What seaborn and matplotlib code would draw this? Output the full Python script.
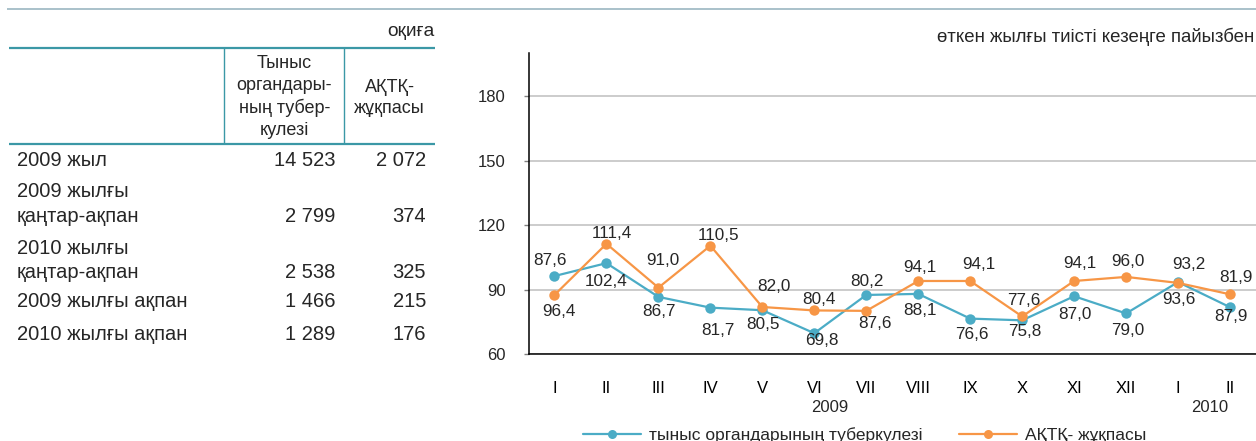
import numpy as np
import pandas as pd
import matplotlib
matplotlib.use("Agg")
import matplotlib.pyplot as plt
import matplotlib.transforms as mtransforms
import seaborn as sns
from matplotlib.lines import Line2D

# ---------------- data ----------------
months = ["I", "II", "III", "IV", "V", "VI", "VII", "VIII", "IX", "X", "XI", "XII", "I", "II"]
years = ["2009", "2010"]
tb_pct = [96.4, 102.4, 86.7, 81.7, 80.5, 69.8, 87.6, 88.1, 76.6, 75.8, 87.0, 79.0, 93.6, 81.9]
hiv_pct = [87.6, 111.4, 91.0, 110.5, 82.0, 80.4, 80.2, 94.1, 94.1, 77.6, 94.1, 96.0, 93.2, 87.9]
upper_labels = [87.6, 111.4, 91.0, 110.5, 82.0, 80.4, 80.2, 94.1, 94.1, 77.6, 94.1, 96.0, 93.2, 81.9]
lower_labels = [96.4, 102.4, 86.7, 81.7, 80.5, 69.8, 87.6, 88.1, 76.6, 75.8, 87.0, 79.0, 93.6, 87.9]
series_names = ["тыныс органдарының туберкулезі", "АҚТҚ- жұқпасы"]
y_ticks = [60, 90, 120, 150, 180]

row_labels = [["2009 жыл"], ["2009 жылғы", "қаңтар-ақпан"], ["2010 жылғы", "қаңтар-ақпан"],
              ["2009 жылғы ақпан"], ["2010 жылғы ақпан"]]
tb_cases = [14523, 2799, 2538, 1466, 1289]
hiv_cases = [2072, 374, 325, 215, 176]
col_header_tb = ["Тыныс", "органдары-", "ның тубер-", "кулезі"]
col_header_hiv = ["АҚТҚ-", "жұқпасы"]
unit_left = "оқиға"
unit_right = "өткен жылғы тиісті кезеңге пайызбен"

# ---------------- style ----------------
sns.set_style("white")
plt.rcParams["font.family"] = ["Liberation Sans", "DejaVu Sans"]
BLUE = "#4bacc6"
ORANGE = "#f79646"
TEAL = "#3b98a6"
RULE = "#a3bcc6"

W, H = 1256, 441
fig = plt.figure(figsize=(W / 100, H / 100), dpi=100)


def fx(x):
    return x / W


def fy(y):
    return 1 - y / H


def hline(x0, x1, y, color, lw):
    fig.add_artist(Line2D([fx(x0), fx(x1)], [fy(y), fy(y)], transform=fig.transFigure,
                          color=color, lw=lw, solid_capstyle="butt"))


def vline(x, y0, y1, color, lw):
    fig.add_artist(Line2D([fx(x), fx(x)], [fy(y0), fy(y1)], transform=fig.transFigure,
                          color=color, lw=lw, solid_capstyle="butt"))


def fmt_int(v):
    return f"{v:,}".replace(",", " ")


def fmt_dec(v):
    return f"{v:.1f}".replace(".", ",")


# top rule
hline(7, 1256, 9, RULE, 1.3)

# ---------------- table ----------------
fig.text(fx(435), fy(31), unit_left, ha="right", va="center", fontsize=13.8)
hline(9, 435, 48.3, TEAL, 1.6)
hline(9, 435, 144, TEAL, 1.6)
vline(224.3, 48.3, 144, TEAL, 1.0)
vline(344.3, 48.3, 144, TEAL, 1.0)
for k, line in enumerate(col_header_tb):
    fig.text(fx(284.3), fy(63 + 22.5 * k), line, ha="center", va="center", fontsize=13)
for k, line in enumerate(col_header_hiv):
    fig.text(fx(389.7), fy(87 + 21.5 * k), line, ha="center", va="center", fontsize=13)

row_line_y = [[160], [191.7, 216.7], [248, 273], [301.7], [334]]
for labels, ys, a, b in zip(row_labels, row_line_y, tb_cases, hiv_cases):
    for line, yy in zip(labels, ys):
        fig.text(fx(17), fy(yy), line, ha="left", va="center", fontsize=14.5)
    fig.text(fx(335), fy(ys[-1]), fmt_int(a), ha="right", va="center", fontsize=14.5)
    fig.text(fx(426), fy(ys[-1]), fmt_int(b), ha="right", va="center", fontsize=14.5)

# ---------------- chart ----------------
ax_l, ax_b, ax_r, ax_t = 528.5, 354.3, 1256, 53.3
ax = fig.add_axes([fx(ax_l), fy(ax_b), (ax_r - ax_l) / W, (ax_b - ax_t) / H])

df = pd.DataFrame({"x": np.arange(len(months)), "tb": tb_pct, "hiv": hiv_pct})
sns.lineplot(data=df, x="x", y="tb", ax=ax, color=BLUE, lw=1.6, marker="o", markersize=7.5,
             markeredgewidth=0, zorder=3)
sns.lineplot(data=df, x="x", y="hiv", ax=ax, color=ORANGE, lw=1.6, marker="o", markersize=7.5,
             markeredgewidth=0, zorder=4)

ax.set_xlim(-0.5, len(months) - 0.5)
ax.set_ylim(60, 200)
ax.set_yticks(y_ticks)
ax.set_yticklabels([str(t) for t in y_ticks])
ax.set_xticks(np.arange(len(months)))
ax.set_xticklabels(months)
ax.set_xticks(np.arange(-0.5, len(months), 1), minor=True)
ax.set_xlabel("")
ax.set_ylabel("")
ax.tick_params(axis="x", which="major", length=0, pad=19, labelsize=12, colors="black")
ax.tick_params(axis="x", which="minor", length=4, width=1, color="#808080", direction="out")
ax.tick_params(axis="y", length=3.6, width=1, color="#808080", pad=13, labelsize=12,
               left=True, direction="out")
ax.yaxis.grid(True, color="#c8c8c8", lw=1.3)
ax.xaxis.grid(False)
ax.set_axisbelow(True)
for s in ["top", "right"]:
    ax.spines[s].set_visible(False)
for s in ["left", "bottom"]:
    ax.spines[s].set_color("black")
    ax.spines[s].set_linewidth(1.1)

# data labels (offsets in pixels from the higher / lower point of each month)
top_dx = [-4, 5, 4, 8, 12, 5, 1, 2, 9, 2, 6, 2, 11, 6]
top_dy = [14, 9, 26, 9, 19, 9, 12, 12, 15, 14, 16, 14, 16, 15]
bot_dx = [4, 0, 1, 8, 1, 8, 9, 2, 2, 3, 1, 2, 1, 1]
bot_dy = [18, 20, 16, 24, 16, 9, 14, 18, 17, 13, 20, 19, 18, 11]
for i in range(len(months)):
    hi = max(tb_pct[i], hiv_pct[i])
    lo = min(tb_pct[i], hiv_pct[i])
    ax.annotate(fmt_dec(upper_labels[i]), (i, hi), xytext=(top_dx[i] * 0.72, (top_dy[i] + 1.5) * 0.72),
                textcoords="offset points", ha="center", va="center", fontsize=12.3, zorder=5)
    ax.annotate(fmt_dec(lower_labels[i]), (i, lo), xytext=(bot_dx[i] * 0.72, -(bot_dy[i] - 1.5) * 0.72),
                textcoords="offset points", ha="center", va="center", fontsize=12.3, zorder=5)

# year labels under the months
trans = mtransforms.blended_transform_factory(ax.transData, fig.transFigure)
ax.text(5.3, fy(408), years[0], transform=trans, ha="center", va="center", fontsize=12)
ax.text(12.6, fy(408), years[1], transform=trans, ha="center", va="center", fontsize=12)

fig.text(fx(1254), fy(37), unit_right, ha="right", va="center", fontsize=13.4)

# legend
handles = [Line2D([], [], color=BLUE, lw=1.6, marker="o", markersize=6.5, markeredgewidth=0),
           Line2D([], [], color=ORANGE, lw=1.6, marker="o", markersize=6.5, markeredgewidth=0)]
fig.legend(handles, series_names, loc="center", bbox_to_anchor=(fx(865), fy(435)), ncol=2,
           frameon=False, handlelength=3.3, handletextpad=0.5, columnspacing=2.1, fontsize=12.5,
           borderaxespad=0, borderpad=0)

fig.savefig("out.png", dpi=100, facecolor="white")
